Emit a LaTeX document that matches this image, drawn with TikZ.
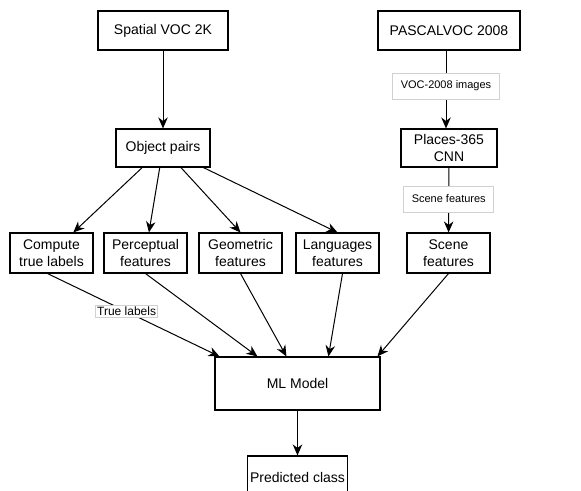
\documentclass[tikz,border=0pt]{standalone}
\usepackage{fontspec}
\setmainfont{Liberation Sans}
\usetikzlibrary{arrows.meta}
\tikzset{
  box/.style={draw, line width=1.1pt, inner sep=0pt, align=center, font=\fontsize{14}{17.5}\selectfont},
  lbl/.style={draw=black!18, fill=white, line width=0.8pt, inner xsep=8pt, minimum height=26pt, font=\fontsize{11}{13}\selectfont},
  arr/.style={line width=1pt, -{Stealth[length=11pt,width=9.5pt,inset=3.5pt]}}
}

\begin{document}
\begin{tikzpicture}[x=1pt,y=-1pt]
  \useasboundingbox (0,0) rectangle (581,490);
  % \draw[step=50,gray,very thin] (0,0) grid (581,490);
  % top row
  \node[box, minimum width=130pt, minimum height=39pt] (svoc) at (163,30.5) {Spatial VOC 2K};
  \node[box, minimum width=142pt, minimum height=39pt] (pvoc) at (449,30.5) {PASCALVOC 2008};
  \node[box, minimum width=94pt, minimum height=38pt] (op) at (163,148) {Object pairs};
  \node[box, minimum width=96pt, minimum height=38pt] (places) at (449,148) {Places-365\\CNN};
  % features
  \node[box, minimum width=83pt, minimum height=40pt] (comp) at (51.5,253) {Compute\\true labels};
  \node[box, minimum width=83pt, minimum height=40pt] (perc) at (145.5,253) {Perceptual\\features};
  \node[box, minimum width=83pt, minimum height=40pt] (geo) at (240.5,253) {Geometric\\features};
  \node[box, minimum width=83pt, minimum height=40pt] (lang) at (337.5,253) {Languages\\features};
  \node[box, minimum width=83pt, minimum height=40pt] (scene) at (448.5,253) {Scene\\features};
  % model
  \node[box, minimum width=165pt, minimum height=53pt] (ml) at (297.5,383.5) {ML Model};
  \node[box, minimum width=100pt, minimum height=42pt] (pred) at (297.5,477) {Predicted class};

  \draw[arr] (svoc) -- (op);
  \draw[arr] ([xshift=-3pt]pvoc.south) -- node[lbl, pos=0.456] (limg) {VOC-2008 images} ([xshift=-3pt]places.north);
  \draw[arr] (places) -- node[lbl, pos=0.485] (lscn) {Scene features} (scene);
  \draw[arr] (op) -- (comp);
  \draw[arr] (op) -- (perc);
  \draw[arr] (op) -- (geo.north);
  \draw[arr] (op) -- (lang.north);
  \draw[arr] ([xshift=-4pt]comp.south) -- node[lbl, pos=0.46, inner sep=1.5pt, minimum height=0pt, font=\fontsize{12}{14}\selectfont] (ltrue) {True labels} ([xshift=5pt]ml.north west);
  \draw[arr] (perc.south) -- ([xshift=43pt]ml.north west);
  \draw[arr] (geo.south) -- ([xshift=72pt]ml.north west);
  \draw[arr] ([xshift=5pt]lang.south) -- ([xshift=114pt]ml.north west);
  \draw[arr] (scene.south) -- ([xshift=163pt]ml.north west);
  \draw[arr] (ml) -- (pred);
\end{tikzpicture}
\end{document}
